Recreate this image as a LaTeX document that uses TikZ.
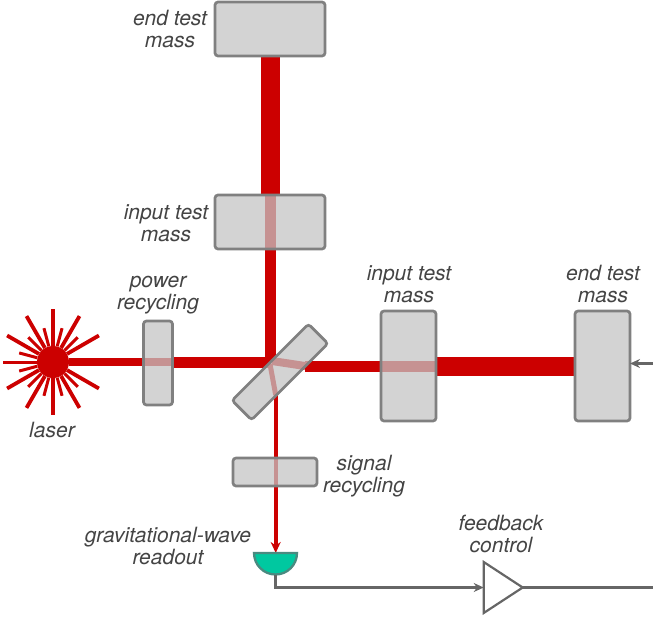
\documentclass[tikz,border=0pt]{standalone}
\usepackage{fontspec}
\setmainfont{TeX Gyre Heros}
\usetikzlibrary{arrows.meta,backgrounds,shapes.geometric}
\definecolor{beamred}{HTML}{CC0000}
\definecolor{mirrorgray}{HTML}{C4C4C4}
\definecolor{edgegray}{HTML}{808080}
\definecolor{signalgray}{HTML}{666666}
\definecolor{textgray}{HTML}{444444}
\definecolor{detgreen}{HTML}{00C8A0}
\definecolor{detedge}{HTML}{4A8A80}
\tikzset{
	mirror/.style={draw=edgegray, line width=2.7pt, fill=mirrorgray, fill opacity=0.75, rounded corners=3pt, inner sep=0pt, outer sep=0pt},
	lbl/.style={font=\fontsize{21}{21.5}\selectfont\itshape, text=textgray, align=center, inner sep=0pt},
	beam/.style={draw=beamred, line width=#1},
	ray/.style={draw=beamred, line width=#1},
	wire/.style={draw=signalgray, line width=2.5pt},
	wirehead/.style={-{Stealth[length=10pt,width=9pt]}}
}
\begin{document}
\begin{tikzpicture}[x=1pt, y=-1pt]
	\useasboundingbox (0, 0) rectangle (653, 623);
	
	%%%%% mirrors %%%%%
	\node[mirror, minimum width=110pt, minimum height=54pt] (endtop) at (270, 29) {};
	\node[mirror, minimum width=110pt, minimum height=54pt] (inputtop) at (270, 222) {};
	\node[mirror, minimum width=29pt, minimum height=84pt] (power) at (158, 363) {};
	\node[mirror, minimum width=108pt, minimum height=27.5pt, rotate=45] (splitter) at (280, 372) {};
	\node[mirror, minimum width=55pt, minimum height=110pt] (inputright) at (408.5, 366) {};
	\node[mirror, minimum width=55pt, minimum height=110pt] (endright) at (602.5, 366) {};
	\node[mirror, minimum width=84pt, minimum height=28pt] (signal) at (275, 472) {};
	
	%%%%% laser %%%%%
	\node[circle, fill=beamred, minimum size=32pt, inner sep=0pt] (laser) at (53, 362) {};
	\foreach \a in {30, 60, 90, 120, 150, 210, 240, 270, 300, 330} {
		\draw[ray=3.8pt] (laser) -- ++(\a:53);
	}
	\draw[ray=3pt] (laser) -- ++(180:50);
	\foreach \a in {45, 75, 105, 135, 165, 195, 225, 255, 285, 315} {
		\draw[ray=3pt] (laser) -- ++(\a:35);
	}
	
	%%%%% points on the splitter faces %%%%%
	\coordinate (front) at (271, 362);
	\coordinate (backright) at (305, 366);
	\coordinate (backdown) at (275.7, 395);
	\coordinate (det) at (275.7, 553);
	\coordinate (knee) at (275.7, 587.5);
	\coordinate (outfeed) at (653, 587.5);
	\coordinate (infeed) at (653, 363.5);
	
	%%%%% beams %%%%%
	\begin{pgfonlayer}{background}
		\draw[beam=19pt] (endtop.south) -- (inputtop.north);
		\draw[beam=11pt] (inputtop.north) -- (inputtop |- front);
		\draw[beam=8pt] (laser) -- (power.east |- laser);
		\draw[beam=11pt] (power.east |- laser) -- (front);
		\draw[beam=8pt] (272, 361) -- (backright);
		\draw[beam=5pt] (270, 364) -- (backdown);
		\draw[beam=11pt] (backright) -- (inputright.east);
		\draw[beam=19pt] (inputright.east) -- (endright.west);
		\draw[beam=4pt, -{Stealth[length=11pt,width=10pt]}] (backdown) -- (det);
	\end{pgfonlayer}
	
	%%%%% readout %%%%%
	\draw[fill=detgreen, draw=detedge, line width=2.3pt] (254, 553) -- (297, 553) arc (0:180:21.5 and 21.5) -- cycle;
	\node[isosceles triangle, isosceles triangle apex angle=60, isosceles triangle stretches, draw=signalgray, line width=2.2pt, minimum width=51pt, minimum height=39pt, inner sep=0pt, outer sep=0pt] (amp) at (497.5, 587.5) {};
	\draw[wire, wirehead] (det |- 0, 575) -- (knee) -- (amp.lower side);
	\draw[wire] (amp.apex) -- (outfeed);
	\draw[wire, wirehead] (infeed) -- (endright.east |- infeed);
	
	%%%%% labels %%%%%
	\node[lbl] (endtoplbl) at (170, 29) {end test\\mass};
	\node[lbl] (inputtoplbl) at (166, 223) {input test\\mass};
	\node[lbl] (powerlbl) at (158, 295) {power\\recycling};
	\node[lbl] (inputrightlbl) at (409, 284) {input test\\mass};
	\node[lbl] (endrightlbl) at (603, 284) {end test\\mass};
	\node[lbl] (laserlbl) at (52, 430) {laser};
	\node[lbl] (signallbl) at (364, 476) {signal\\recycling};
	\node[lbl] (readoutlbl) at (168, 546) {gravitational-wave\\readout};
	\node[lbl] (feedbacklbl) at (501, 534) {feedback\\control};
\end{tikzpicture}
\end{document}
